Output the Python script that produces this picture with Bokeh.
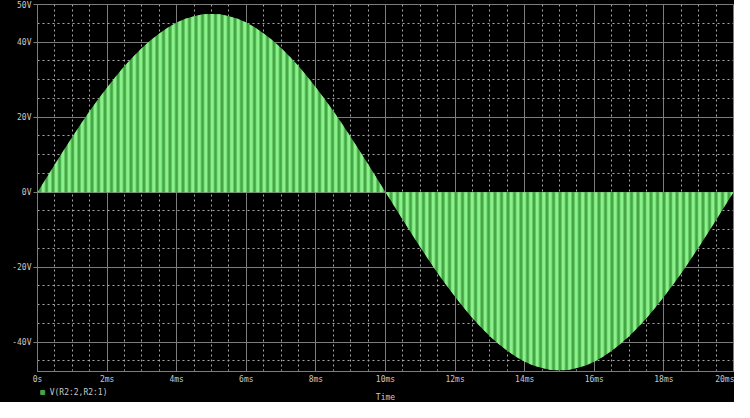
from bokeh.plotting import figure
from bokeh.layouts import column
from bokeh.models import ColumnDataSource, FixedTicker, Range1d
from bokeh.core.properties import value
from bokeh.embed import file_html
from bokeh.resources import INLINE

# ---- data ----
time_ms = [round(0.25 * i, 2) for i in range(81)]
voltage_v = [
    0.0, 3.7, 7.4, 11.1, 14.7, 18.2, 21.6, 24.8, 27.9, 30.8, 33.6, 36.1, 38.4, 40.5, 42.3, 43.9, 45.2, 46.2, 46.9, 47.4, 47.5,
    47.4, 46.9, 46.2, 45.2, 43.9, 42.3, 40.5, 38.4, 36.1, 33.6, 30.8, 27.9, 24.8, 21.6, 18.2, 14.7, 11.1, 7.4, 3.7, 0.0,
    -3.7, -7.4, -11.1, -14.7, -18.2, -21.6, -24.8, -27.9, -30.8, -33.6, -36.1, -38.4, -40.5, -42.3, -43.9, -45.2, -46.2, -46.9, -47.4, -47.5,
    -47.4, -46.9, -46.2, -45.2, -43.9, -42.3, -40.5, -38.4, -36.1, -33.6, -30.8, -27.9, -24.8, -21.6, -18.2, -14.7, -11.1, -7.4, -3.7, 0.0,
]
x_tick_values = [0, 2, 4, 6, 8, 10, 12, 14, 16, 18, 20]
x_tick_labels = ["0s", "2ms", "4ms", "6ms", "8ms", "10ms", "12ms", "14ms", "16ms", "18ms", "20ms"]
y_tick_values = [-40, -20, 0, 20, 40, 50]
y_tick_labels = ["-40V", "-20V", "0V", "20V", "40V", "50V"]
series_name = "V(R2:2,R2:1)"
x_title = "Time"
x_min, x_max = 0, 20
y_min, y_max = -47.8, 50

# ---- style ----
FONT = "DejaVu Sans Mono"
TXT = "#c8c8c8"
GRID = "#7c7c7c"
DOT = "#a8a8a8"
GREEN_DARK = "#45a545"
GREEN_LIGHT = "#8af28a"
W = 734
LEFT, RIGHT = 37, 1

x_range = Range1d(x_min, x_max)

p = figure(width=W, height=386, output_backend="svg", toolbar_location=None,
           x_range=x_range, y_range=Range1d(y_min, y_max),
           min_border_left=LEFT, min_border_right=RIGHT, min_border_top=4, min_border_bottom=14,
           background_fill_color="black", border_fill_color="black",
           outline_line_color=GRID, outline_line_width=1)

src = ColumnDataSource(dict(t=time_ms, v=voltage_v, zero=[0.0] * len(time_ms)))
p.varea(x="t", y1="zero", y2="v", source=src, fill_color=GREEN_DARK,
        hatch_pattern="vertical_line", hatch_color=GREEN_LIGHT,
        hatch_weight=3.5, hatch_scale=6.5)

x_minor = [m / 2 for m in range(0, 41) if (m / 2) not in x_tick_values]
y_minor = [v for v in range(-45, 50, 5) if v not in y_tick_values]

p.xaxis.ticker = FixedTicker(ticks=x_tick_values, minor_ticks=x_minor)
p.xaxis.major_label_overrides = dict(zip(x_tick_values, x_tick_labels))
p.xaxis.axis_line_color = GRID
p.xaxis.major_tick_line_color = GRID
p.xaxis.minor_tick_line_color = GRID
p.xaxis.major_tick_in = 4
p.xaxis.major_tick_out = 0
p.xaxis.minor_tick_in = 2
p.xaxis.minor_tick_out = 0
p.xaxis.major_label_standoff = 3
p.xaxis.major_label_text_font = FONT
p.xaxis.major_label_text_font_size = "8px"
p.xaxis.major_label_text_color = TXT

p.yaxis.ticker = FixedTicker(ticks=y_tick_values, minor_ticks=y_minor)
p.yaxis.major_label_overrides = dict(zip(y_tick_values, y_tick_labels))
p.yaxis.axis_line_color = GRID
p.yaxis.major_tick_line_color = GRID
p.yaxis.major_tick_in = 0
p.yaxis.major_tick_out = 4
p.yaxis.minor_tick_line_color = None
p.yaxis.major_label_standoff = 2
p.yaxis.major_label_text_font = FONT
p.yaxis.major_label_text_font_size = "8px"
p.yaxis.major_label_text_color = TXT

for g in (p.xgrid, p.ygrid):
    g.grid_line_color = GRID
    g.grid_line_width = 1
    g.minor_grid_line_color = DOT
    g.minor_grid_line_dash = "2 3"
    g.minor_grid_line_width = 1

# ---- bottom strip: legend entry and x-axis title ----
s = figure(width=W, height=16, output_backend="svg", toolbar_location=None,
           x_range=x_range, y_range=Range1d(0, 16),
           x_axis_location=None, y_axis_location=None,
           min_border_left=LEFT, min_border_right=RIGHT, min_border_top=0, min_border_bottom=0,
           background_fill_color="black", border_fill_color="black", outline_line_color=None)
s.xgrid.visible = False
s.ygrid.visible = False
s.scatter(x=[0.15], y=[10], marker="square", size=4,
          fill_color=GREEN_DARK, line_color=GREEN_DARK)
s.text(x=[0.35], y=[10], text=[series_name], text_align="left", text_baseline="middle",
       text_font=value(FONT), text_font_size="8px", text_color=TXT)
s.text(x=[(x_min + x_max) / 2], y=[5], text=[x_title], text_align="center", text_baseline="middle",
       text_font=value(FONT), text_font_size="8px", text_color=TXT)

layout = column(p, s, spacing=0, styles={"background-color": "black"})
open("out.html", "w").write(file_html(layout, INLINE))
